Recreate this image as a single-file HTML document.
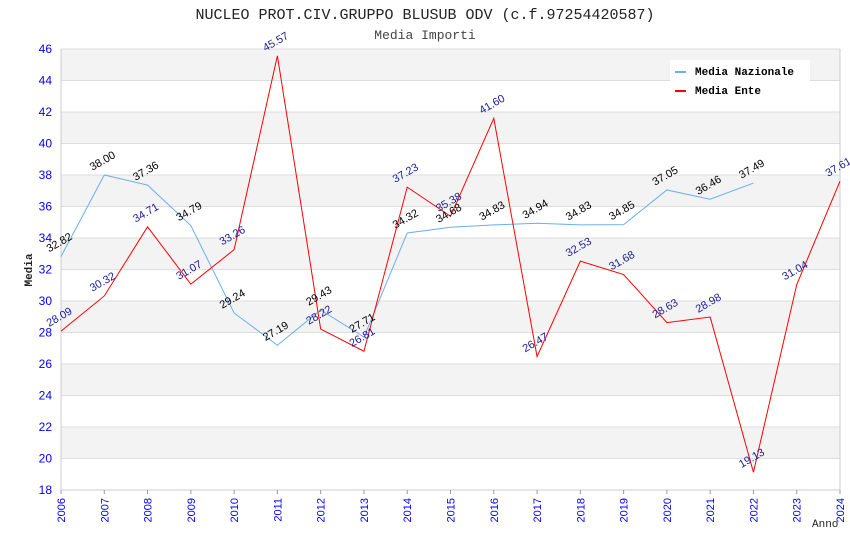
<!DOCTYPE html>
<html><head><meta charset="utf-8"><style>body{margin:0;background:#fff}svg{display:block}</style></head>
<body>
<svg id="c" width="850" height="550" xmlns="http://www.w3.org/2000/svg">
<text x="425" y="19" text-anchor="middle" font-family="Liberation Mono, monospace" font-size="15" fill="#222">NUCLEO PROT.CIV.GRUPPO BLUSUB ODV (c.f.97254420587)</text>
<text x="425" y="39" text-anchor="middle" font-family="Liberation Mono, monospace" font-size="13" fill="#444">Media Importi</text>
<g id="bands"></g><g id="grid"></g><g id="axes"></g><g id="series"></g><g id="labels"></g>
<g>
<rect x="670" y="60" width="140" height="40" fill="#fff"/>
<g><line x1="675" y1="72" x2="686" y2="72" stroke="#6aaef0" stroke-width="2"/><text x="695" y="75" font-family="Liberation Mono, monospace" font-weight="bold" font-size="11" fill="#000">Media Nazionale</text></g>
<g><line x1="675" y1="91" x2="686" y2="91" stroke="#f00" stroke-width="2"/><text x="695" y="94" font-family="Liberation Mono, monospace" font-weight="bold" font-size="11" fill="#000">Media Ente</text></g>
</g>
<text x="32" y="270" text-anchor="middle" transform="rotate(-90 32 270)" font-family="Liberation Mono, monospace" font-weight="bold" font-size="11" fill="#222">Media</text>
<text x="812" y="527" font-family="Liberation Mono, monospace" font-size="11" fill="#222">Anno</text>
</svg>
<script>
const years=[2006,2007,2008,2009,2010,2011,2012,2013,2014,2015,2016,2017,2018,2019,2020,2021,2022,2023,2024];
const nazionale=[32.82,38.00,37.36,34.79,29.24,27.19,29.43,27.71,34.32,34.68,34.83,34.94,34.83,34.85,37.05,36.46,37.49];
const ente=[28.09,30.32,34.71,31.07,33.26,45.57,28.22,26.81,37.23,35.38,41.60,26.47,32.53,31.68,28.63,28.98,19.13,31.04,37.61];
const yTicks=[18,20,22,24,26,28,30,32,34,36,38,40,42,44,46];
const NS="http://www.w3.org/2000/svg";
const X0=61,X1=840,Y0=490,Y1=49;
const xs=i=>X0+(X1-X0)*i/(years.length-1);
const ys=v=>Y0-(v-18)/(46-18)*(Y0-Y1);
function mk(t,a,p){const e=document.createElementNS(NS,t);for(const k in a)e.setAttribute(k,a[k]);p.appendChild(e);return e;}
const bands=document.getElementById('bands'),grid=document.getElementById('grid'),axes=document.getElementById('axes'),series=document.getElementById('series'),labels=document.getElementById('labels');
for(let v=20;v<46;v+=4){const r=mk('rect',{x:X0,y:ys(v+2),width:X1-X0,height:ys(v)-ys(v+2),fill:'#f3f3f3'},bands);

}
yTicks.forEach(v=>{const l=mk('line',{x1:X0,x2:X1,y1:ys(v),y2:ys(v),stroke:'#ddd','stroke-width':1},grid);


const t=mk('text',{x:X0-9,y:ys(v)+4,'text-anchor':'end','font-family':'Liberation Sans, sans-serif','font-size':12,fill:'#00f'},axes);t.textContent=v;

});
mk('line',{x1:X0,x2:X0,y1:Y1,y2:Y0,stroke:'#ccc'},axes);
mk('line',{x1:X1,x2:X1,y1:Y1,y2:Y0,stroke:'#ccc'},axes);
mk('line',{x1:X0,x2:X1,y1:Y0,y2:Y0,stroke:'#ccc'},axes);
years.forEach((y,i)=>{const x=xs(i);mk('line',{x1:x,x2:x,y1:Y0,y2:Y0+4,stroke:'#999'},axes);
const t=mk('text',{x:x+4,y:Y0+8,'text-anchor':'end',transform:`rotate(-90 ${x+4} ${Y0+8})`,'font-family':'Liberation Sans, sans-serif','font-size':11,fill:'#00f'},axes);t.textContent=y;

});
function draw(data,color,lc,name){
const p=mk('polyline',{points:data.map((v,i)=>xs(i)+','+ys(v)).join(' '),fill:'none',stroke:color,'stroke-width':1},series);


data.forEach((v,i)=>{const x=xs(i),y=ys(v)-11;const t=mk('text',{x:x,y:y,'text-anchor':'middle',transform:`rotate(-30 ${x} ${y})`,'font-family':'Liberation Sans, sans-serif','font-size':11,fill:lc},labels);t.textContent=v.toFixed(2);

});}
draw(nazionale,'#6aaef0','#000','nazionale');
draw(ente,'#f00','#1a1a9a','ente');
</script>
</body></html>
